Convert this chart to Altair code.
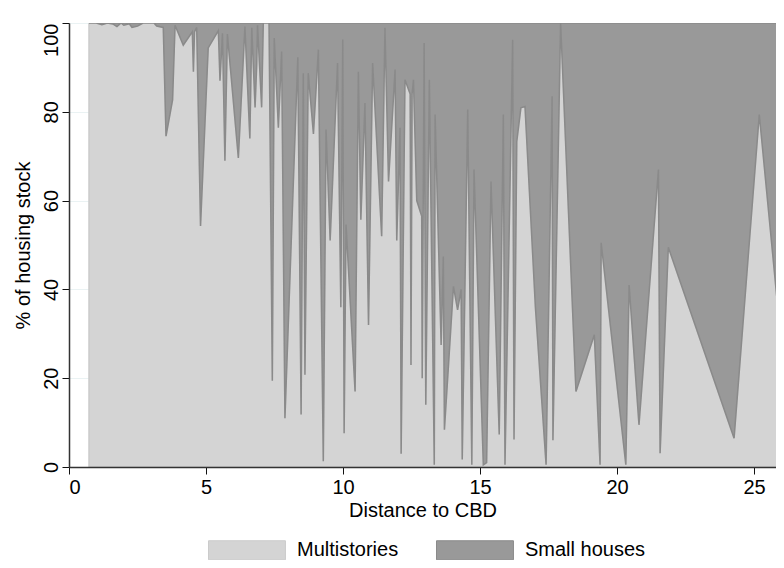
import altair as alt
import pandas as pd

# Distance to CBD (km) and share of multistorey housing (%)
distance = [0.73, 1.0, 1.2, 1.4, 1.6, 1.75, 1.9, 2.0, 2.2, 2.3, 2.5, 2.7, 2.9, 3.1, 3.2,
            3.44, 3.54, 3.78, 3.87, 4.17, 4.5, 4.54, 4.58, 4.66, 4.8, 5.08, 5.45, 5.51,
            5.6, 5.69, 5.78, 6.18, 6.42, 6.6, 6.67, 6.79, 6.85, 6.88, 7.03, 7.09, 7.3,
            7.42, 7.49, 7.64, 7.76, 7.88, 8.35, 8.47, 8.55, 8.61, 8.73, 8.92, 9.1, 9.28,
            9.38, 9.53, 9.8, 9.92, 9.99, 10.04, 10.11, 10.44, 10.56, 10.65, 10.8, 10.93,
            11.08, 11.41, 11.53, 11.66, 11.9, 11.96, 12.08, 12.12, 12.26, 12.45, 12.48,
            12.52, 12.57, 12.69, 12.87, 12.89, 12.96, 13.02, 13.15, 13.33, 13.36, 13.58,
            13.66, 13.7, 14.03, 14.18, 14.31, 14.35, 14.55, 14.7, 14.78, 15.12, 15.24,
            15.4, 15.7, 15.85, 15.91, 16.19, 16.24, 16.34, 16.49, 16.64, 17.02, 17.41,
            17.63, 17.66, 17.94, 18.5, 19.17, 19.38, 19.42, 20.32, 20.44, 20.8, 21.51,
            21.57, 21.87, 24.27, 25.19, 26.1]
multistories = [100, 100, 99.6, 100, 99.8, 99.2, 100, 99.5, 99.8, 99, 99.3, 100, 100, 100, 99.3,
                99, 74.5, 82.7, 99.5, 95, 98, 89, 98, 99, 54.3, 94.4, 98.3, 87,
                97.7, 69, 97.5, 69.6, 99.2, 74, 98.9, 81, 90.6, 99.5, 81, 100, 100,
                19.4, 96.6, 76.4, 93.6, 11, 92.3, 11.8, 88.7, 20.8, 88.7, 75, 94, 1.3,
                76, 51, 91, 36, 96.3, 7.6, 54.6, 17, 89, 55.7, 82, 32,
                91, 52, 98.9, 64.3, 89.5, 51, 76.4, 3, 87.2, 84, 23,
                84, 87.2, 60, 56.5, 20, 95.5, 14, 87.2, 0.5, 79.4, 27.5,
                47.4, 8.4, 40.7, 35.4, 40, 1.7, 80.5, 0.5, 67, 0.5, 1,
                64.3, 7.3, 79.4, 0.5, 96.2, 6.2, 73.3, 80.9, 81.2, 36, 0.5,
                83.5, 6, 100, 17, 29.8, 0.5, 50.5, 0.5, 41, 9.5, 67,
                3.1, 49.5, 6.5, 79.4, 20.8]
assert len(distance) == len(multistories)

series_names = ["Multistories", "Small houses"]
fill_colors = ["#d4d4d4", "#999999"]
stroke_colors = ["#cbcbcb", "#8a8a8a"]
x_ticks = [0, 5, 10, 15, 20, 25]
y_ticks = [0, 20, 40, 60, 80, 100]

rows = []
for d, m in zip(distance, multistories):
    rows.append({"distance": d, "series": series_names[0], "lo": 0, "hi": m})
    rows.append({"distance": d, "series": series_names[1], "lo": m, "hi": 100})
df = pd.DataFrame(rows)

FONT = "Liberation Sans"
x_scale = alt.Scale(domain=[0, 25.8], nice=False, zero=False)
y_scale = alt.Scale(domain=[0, 100], nice=False)

legend = alt.Legend(
    title=None, orient="none", legendX=139, legendY=517, direction="horizontal",
    symbolType="M-1,-1H7.1V1H-1Z", symbolSize=361, symbolStrokeWidth=1,
    labelFont=FONT, labelFontSize=20, labelColor="black", labelOffset=69,
    columnPadding=35, padding=0,
)

top_label_align = {"condition": {"test": "datum.value >= 100", "value": "right"}, "value": "center"}

chart = alt.Chart(df).mark_area(strokeWidth=1.5, clip=True, interpolate="linear").encode(
    x=alt.X("distance:Q", scale=x_scale,
            axis=alt.Axis(values=x_ticks, title="Distance to CBD", grid=False,
                          labelFont=FONT, labelFontSize=20, labelColor="black",
                          titleFont=FONT, titleFontSize=20, titleFontWeight="normal",
                          titleColor="black", tickSize=7, tickColor="#111",
                          domainColor="#333", domainWidth=1.5, labelPadding=3,
                          titlePadding=3, zindex=1)),
    y=alt.Y("hi:Q", scale=y_scale,
            axis=alt.Axis(values=y_ticks, title="% of housing stock",
                          grid=True, gridColor="#eaf2f3", gridWidth=1,
                          labelFont=FONT, labelFontSize=20, labelColor="black",
                          labelAngle=270, labelAlign=top_label_align,
                          labelBaseline="alphabetic",
                          titleFont=FONT, titleFontSize=20, titleFontWeight="normal",
                          titleColor="black", tickSize=7, tickColor="#111",
                          domainColor="#333", domainWidth=1.5, labelPadding=5,
                          titlePadding=8, zindex=0)),
    y2="lo:Q",
    fill=alt.Fill("series:N", scale=alt.Scale(domain=series_names, range=fill_colors), legend=legend),
    stroke=alt.Stroke("series:N", scale=alt.Scale(domain=series_names, range=stroke_colors), legend=legend),
    detail="series:N",
).properties(
    width=707, height=444,
    autosize=alt.AutoSizeParams(type="none"),
    padding={"top": 15, "left": 61, "right": 0, "bottom": 93},
).configure_view(stroke=None).configure(background="white")

chart.save("out.html", embed_options={"renderer": "svg", "actions": False})
